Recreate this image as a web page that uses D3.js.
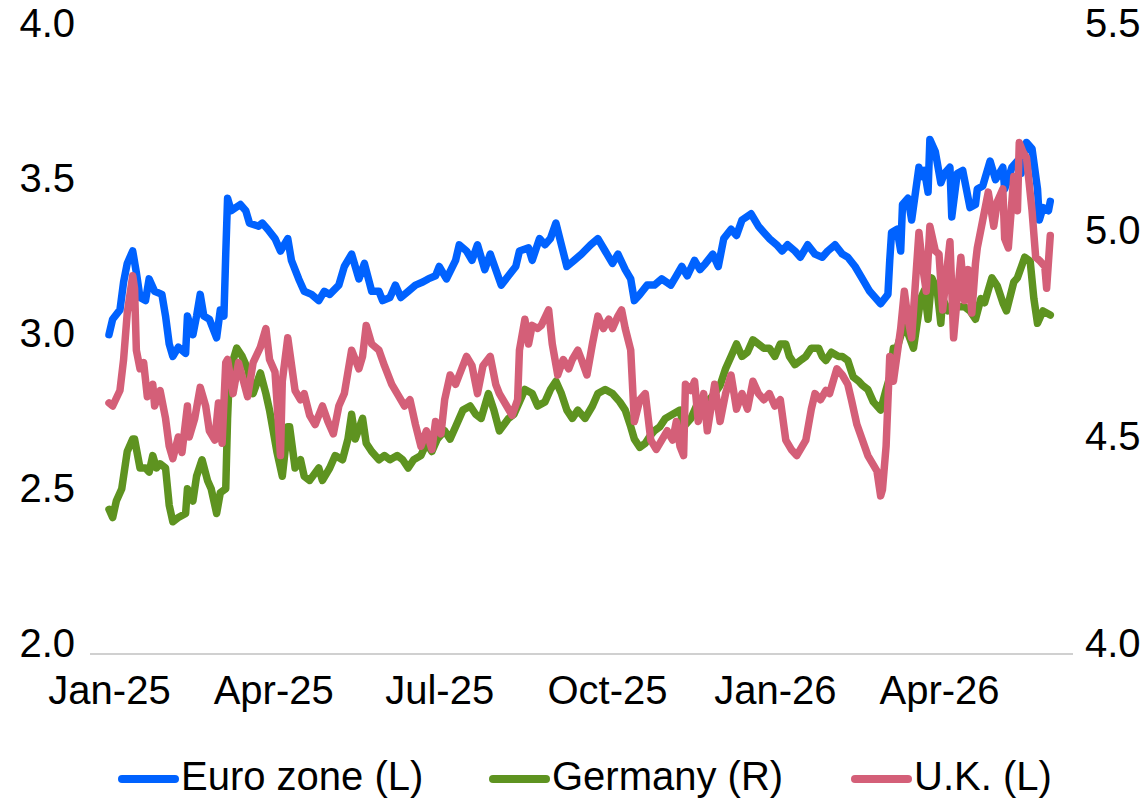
<!DOCTYPE html>
<html>
<head>
<meta charset="utf-8">
<script src="https://cdn.jsdelivr.net/npm/d3@7"></script>
<style>
  html, body { margin: 0; padding: 0; background: #fff; }
  svg { display: block; font-family: Arial, "Liberation Sans", sans-serif; }
</style>
</head>
<body>
<svg id="chart" width="1147" height="801"></svg>
<script>
// ---------------- DATA ----------------
const startDate = "2025-01-01";            // day 0 of the series
const xTickFormat = "%b-%y";                // Jan-25, Apr-25, ...
const leftTicks = [2.0, 2.5, 3.0, 3.5, 4.0];
const rightTicks = [4.0, 4.5, 5.0, 5.5];
const seriesNames = ["Euro zone (L)", "Germany (R)", "U.K. (L)"];

// [days since startDate, yield]
const euroZone = [[0,3.03],[2,3.08],[6,3.11],[8,3.20],[10,3.26],[13,3.30],[15,3.23],[17,3.15],[20,3.14],[22,3.21],[25,3.17],[29,3.16],[31,3.09],[33,3.00],[35,2.96],[38,2.99],[42,2.97],[43,3.09],[46,3.03],[48,3.09],[50,3.16],[52,3.09],[55,3.08],[59,3.02],[61,3.11],[63,3.09],[64,3.29],[65,3.47],[67,3.43],[72,3.45],[75,3.43],[77,3.39],[82,3.38],[84,3.39],[87,3.37],[91,3.34],[94,3.30],[98,3.34],[100,3.27],[104,3.21],[107,3.17],[111,3.16],[115,3.14],[118,3.17],[121,3.16],[126,3.19],[129,3.25],[133,3.29],[137,3.21],[140,3.26],[144,3.17],[148,3.17],[150,3.14],[154,3.15],[157,3.19],[160,3.15],[164,3.17],[168,3.19],[172,3.20],[175,3.21],[179,3.22],[181,3.25],[185,3.21],[190,3.27],[192,3.32],[196,3.30],[199,3.27],[202,3.32],[206,3.24],[209,3.29],[212,3.24],[215,3.19],[219,3.22],[223,3.25],[225,3.30],[230,3.31],[232,3.27],[236,3.34],[239,3.32],[242,3.34],[245,3.39],[248,3.32],[251,3.25],[255,3.27],[259,3.29],[264,3.32],[268,3.34],[272,3.30],[276,3.26],[279,3.29],[283,3.24],[286,3.21],[288,3.14],[291,3.16],[295,3.19],[299,3.19],[303,3.21],[308,3.19],[311,3.22],[314,3.25],[317,3.22],[321,3.27],[324,3.24],[327,3.26],[331,3.29],[334,3.25],[337,3.34],[341,3.37],[344,3.35],[347,3.40],[352,3.42],[356,3.38],[359,3.36],[362,3.34],[366,3.32],[369,3.30],[372,3.32],[376,3.30],[379,3.28],[383,3.32],[387,3.29],[391,3.28],[394,3.30],[398,3.32],[402,3.29],[405,3.28],[409,3.25],[413,3.21],[417,3.17],[423,3.13],[427,3.16],[428,3.27],[429,3.36],[432,3.37],[434,3.30],[435,3.45],[438,3.47],[440,3.40],[444,3.57],[446,3.54],[447,3.56],[449,3.49],[450,3.66],[453,3.62],[456,3.52],[458,3.55],[461,3.57],[462,3.41],[465,3.55],[468,3.56],[469,3.53],[472,3.44],[475,3.45],[476,3.50],[479,3.51],[482,3.57],[483,3.59],[486,3.53],[490,3.57],[491,3.50],[495,3.57],[498,3.59],[500,3.55],[503,3.65],[506,3.63],[509,3.50],[510,3.40],[512,3.44],[515,3.43],[516,3.46]];

const germany = [[0,4.35],[2,4.33],[4,4.37],[7,4.40],[10,4.49],[13,4.52],[14,4.52],[17,4.45],[20,4.45],[22,4.44],[24,4.48],[26,4.45],[28,4.46],[31,4.45],[33,4.36],[35,4.32],[38,4.33],[42,4.34],[43,4.40],[46,4.37],[48,4.43],[51,4.47],[54,4.42],[56,4.40],[59,4.34],[61,4.39],[64,4.40],[65,4.57],[66,4.68],[70,4.74],[73,4.72],[76,4.69],[79,4.63],[83,4.68],[86,4.63],[88,4.59],[92,4.49],[95,4.43],[98,4.55],[99,4.55],[102,4.45],[105,4.47],[107,4.43],[110,4.42],[115,4.45],[117,4.42],[121,4.45],[124,4.48],[128,4.47],[131,4.52],[133,4.58],[135,4.52],[139,4.57],[141,4.51],[144,4.49],[148,4.47],[151,4.48],[154,4.47],[158,4.48],[161,4.47],[164,4.45],[167,4.47],[171,4.48],[174,4.51],[177,4.49],[180,4.52],[184,4.54],[187,4.52],[190,4.55],[194,4.59],[198,4.60],[201,4.58],[204,4.57],[208,4.63],[211,4.59],[214,4.54],[219,4.57],[222,4.58],[225,4.61],[228,4.64],[232,4.63],[235,4.60],[239,4.61],[242,4.64],[245,4.66],[248,4.63],[251,4.59],[254,4.57],[257,4.59],[261,4.57],[265,4.60],[268,4.63],[272,4.64],[276,4.63],[280,4.61],[283,4.59],[286,4.55],[288,4.52],[291,4.50],[294,4.51],[297,4.53],[299,4.54],[302,4.55],[305,4.57],[309,4.58],[313,4.59],[315,4.55],[319,4.57],[322,4.60],[326,4.59],[328,4.61],[332,4.63],[335,4.65],[338,4.69],[341,4.72],[344,4.75],[347,4.72],[350,4.73],[353,4.76],[356,4.75],[359,4.74],[362,4.74],[365,4.72],[368,4.75],[371,4.75],[373,4.72],[376,4.70],[379,4.71],[382,4.72],[385,4.74],[389,4.74],[391,4.72],[393,4.71],[396,4.73],[400,4.72],[402,4.72],[405,4.71],[408,4.67],[411,4.66],[413,4.65],[416,4.64],[419,4.61],[423,4.59],[426,4.64],[428,4.67],[430,4.74],[432,4.74],[436,4.80],[441,4.74],[445,4.86],[447,4.88],[449,4.81],[451,4.91],[454,4.88],[456,4.80],[457,4.86],[460,4.83],[465,4.84],[469,4.84],[472,4.83],[475,4.81],[478,4.86],[480,4.85],[484,4.91],[487,4.89],[490,4.85],[492,4.83],[496,4.90],[498,4.91],[502,4.96],[505,4.95],[507,4.86],[509,4.80],[512,4.83],[516,4.82]];

const uk = [[0,2.81],[2,2.80],[6,2.85],[8,2.95],[10,3.10],[13,3.22],[14,3.18],[15,2.98],[17,2.92],[19,2.94],[21,2.83],[24,2.87],[25,2.80],[28,2.85],[31,2.76],[33,2.67],[35,2.63],[38,2.70],[40,2.65],[43,2.80],[44,2.70],[47,2.76],[50,2.86],[53,2.80],[55,2.72],[58,2.69],[60,2.81],[62,2.68],[64,2.94],[65,2.95],[68,2.84],[71,2.94],[76,2.83],[79,2.94],[83,2.99],[86,3.05],[88,2.95],[91,2.91],[94,2.64],[95,2.88],[98,3.02],[102,2.85],[105,2.82],[107,2.84],[110,2.77],[113,2.74],[117,2.80],[120,2.75],[123,2.71],[126,2.80],[129,2.84],[133,2.98],[137,2.92],[139,2.96],[141,3.06],[144,3.00],[148,2.98],[151,2.93],[155,2.87],[158,2.84],[162,2.80],[165,2.82],[168,2.74],[171,2.67],[174,2.72],[177,2.66],[179,2.75],[182,2.71],[184,2.82],[187,2.90],[190,2.87],[192,2.90],[196,2.96],[199,2.93],[202,2.84],[205,2.93],[209,2.96],[212,2.87],[214,2.84],[218,2.80],[221,2.77],[224,2.82],[225,2.98],[228,3.08],[230,3.00],[232,3.06],[235,3.05],[237,3.06],[241,3.11],[243,3.00],[246,2.90],[249,2.95],[252,2.92],[254,2.95],[257,2.98],[259,2.95],[262,2.90],[265,3.00],[268,3.09],[271,3.05],[274,3.08],[276,3.05],[279,3.09],[281,3.11],[283,3.05],[286,2.98],[288,2.75],[291,2.82],[294,2.84],[297,2.69],[300,2.66],[303,2.69],[306,2.72],[309,2.69],[311,2.75],[313,2.67],[315,2.64],[316,2.87],[319,2.85],[321,2.88],[323,2.75],[326,2.84],[328,2.72],[332,2.87],[335,2.75],[338,2.84],[341,2.90],[344,2.79],[347,2.84],[350,2.79],[353,2.88],[356,2.84],[359,2.82],[362,2.84],[365,2.80],[368,2.82],[371,2.69],[374,2.66],[377,2.64],[380,2.67],[382,2.69],[385,2.79],[387,2.84],[390,2.82],[393,2.85],[395,2.84],[399,2.92],[402,2.90],[405,2.87],[407,2.82],[410,2.74],[413,2.69],[416,2.64],[419,2.61],[421,2.59],[423,2.51],[424,2.53],[426,2.67],[428,2.96],[430,2.88],[434,3.05],[436,3.17],[438,3.08],[440,3.02],[444,3.36],[446,3.25],[448,3.17],[450,3.38],[453,3.30],[455,3.29],[457,3.11],[461,3.33],[463,3.02],[467,3.28],[469,3.14],[471,3.24],[473,3.10],[475,3.26],[476,3.31],[479,3.40],[482,3.49],[485,3.38],[487,3.46],[490,3.50],[491,3.34],[493,3.31],[496,3.54],[498,3.43],[499,3.65],[501,3.62],[503,3.60],[506,3.43],[508,3.28],[510,3.27],[513,3.25],[514,3.18],[516,3.35]];

// ---------------- LAYOUT / STYLE ----------------
const colors = ["#0062FF", "#5E9320", "#D45F78"];
const FONT = 40;
const svg = d3.select("#chart");
const t0 = d3.utcParse("%Y-%m-%d")(startDate);
const toDate = d => d3.utcDay.offset(t0, d);

const x = d3.scaleUtc()
  .domain([t0, d3.utcParse("%Y-%m-%d")("2026-04-01")])
  .range([109, 939]);
const yL = d3.scaleLinear().domain([2, 4]).range([654, 34]);
const yR = d3.scaleLinear().domain([4, 5.5]).range([654, 34]);

// bottom axis line
svg.append("line")
  .attr("x1", 90).attr("x2", 1073)
  .attr("y1", yL(2)).attr("y2", yL(2))
  .attr("stroke", "#d0d0d0").attr("stroke-width", 2);

// left tick labels
const labelShift = -11;
svg.append("g").selectAll("text").data(leftTicks).join("text")
  .attr("x", 75).attr("y", d => yL(d) + labelShift)
  .attr("text-anchor", "end").attr("dominant-baseline", "central")
  .attr("font-size", FONT).attr("fill", "#000")
  .text(d => d3.format(".1f")(d));

// right tick labels
svg.append("g").selectAll("text").data(rightTicks).join("text")
  .attr("x", 1085).attr("y", d => yR(d) + labelShift)
  .attr("text-anchor", "start").attr("dominant-baseline", "central")
  .attr("font-size", FONT).attr("fill", "#000")
  .text(d => d3.format(".1f")(d));

// x axis via d3.axisBottom (no line, no ticks)
const xAxis = d3.axisBottom(x)
  .ticks(d3.utcMonth.every(3))
  .tickFormat(d3.utcFormat(xTickFormat))
  .tickSize(0).tickPadding(0);
const gx = svg.append("g").attr("transform", "translate(0,676)").call(xAxis);
gx.select(".domain").remove();
gx.selectAll("text")
  .attr("font-size", FONT).attr("fill", "#000")
  .attr("font-family", "Arial, 'Liberation Sans', sans-serif")
  .attr("dy", "0.71em");

// lines
const series = [
  { data: euroZone, y: yL },
  { data: germany, y: yR },
  { data: uk, y: yL }
];
series.forEach((s, i) => {
  const line = d3.line()
    .x(d => x(toDate(d[0])))
    .y(d => s.y(d[1]));
  svg.append("path")
    .datum(s.data)
    .attr("d", line)
    .attr("fill", "none")
    .attr("stroke", colors[i])
    .attr("stroke-width", 7.5)
    .attr("stroke-linejoin", "round")
    .attr("stroke-linecap", "round");
});

// legend
const legendX = [120, 491, 853];
const lg = svg.append("g");
seriesNames.forEach((name, i) => {
  lg.append("line")
    .attr("x1", legendX[i] + 2).attr("x2", legendX[i] + 55)
    .attr("y1", 779).attr("y2", 779)
    .attr("stroke", colors[i]).attr("stroke-width", 8)
    .attr("stroke-linecap", "round");
  lg.append("text")
    .attr("x", legendX[i] + 61).attr("y", 790)
    .attr("font-size", FONT).attr("fill", "#000")
    .text(name);
});
</script>
</body>
</html>
